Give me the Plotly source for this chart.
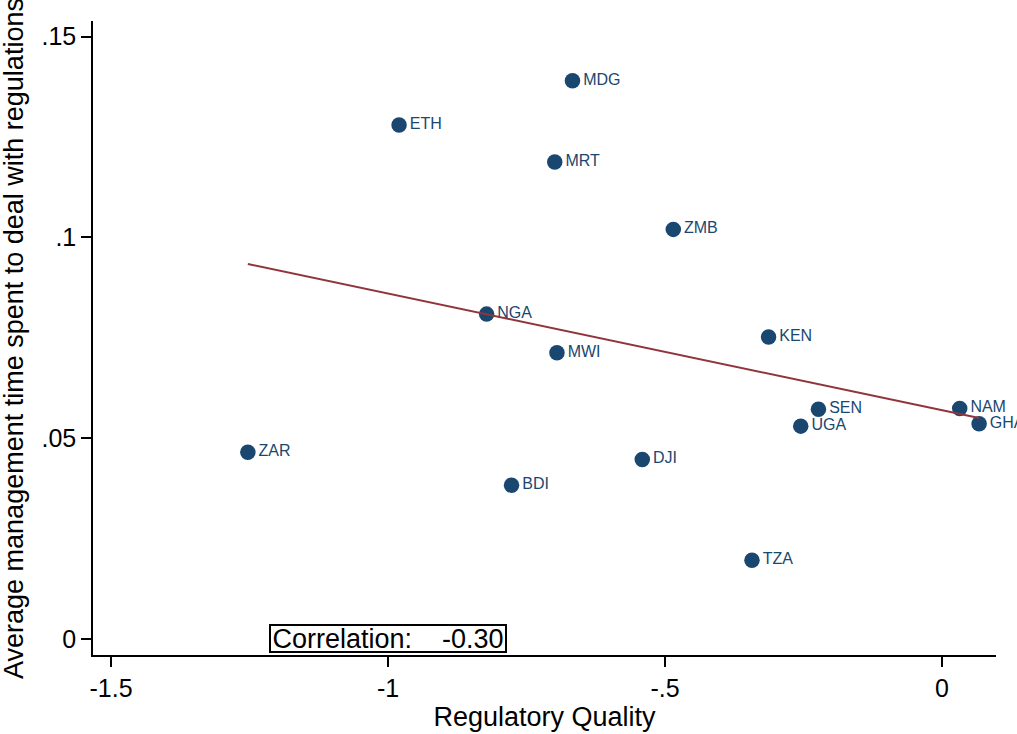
import numpy as np
import plotly.graph_objects as go

# Country codes, regulatory quality index, and share of management time spent on regulations
countries = ["MDG", "ETH", "MRT", "ZMB", "NGA", "KEN", "MWI", "NAM",
             "SEN", "GHA", "UGA", "ZAR", "DJI", "BDI", "TZA"]
reg_quality = [-0.667, -0.980, -0.699, -0.485, -0.822, -0.313, -0.695, 0.032,
               -0.223, 0.067, -0.255, -1.253, -0.541, -0.777, -0.343]
mgmt_time = [0.1390, 0.1280, 0.1188, 0.1020, 0.0809, 0.0752, 0.0713, 0.0574,
             0.0572, 0.0536, 0.0530, 0.0465, 0.0447, 0.0383, 0.0196]

x_ticks = [-1.5, -1, -0.5, 0]
x_tick_text = ["-1.5", "-1", "-.5", "0"]
y_ticks = [0, 0.05, 0.1, 0.15]
y_tick_text = ["0", ".05", ".1", ".15"]

NAVY = "#1a476f"
MAROON = "#90353b"
FONT = "Liberation Sans, Arial, sans-serif"

x = np.array(reg_quality)
y = np.array(mgmt_time)

# Linear fit across the observed range and the Pearson correlation
slope, intercept = np.polyfit(x, y, 1)
fit_x = np.array([x.min(), x.max()])
fit_y = slope * fit_x + intercept
corr = np.corrcoef(x, y)[0, 1]

fig = go.Figure()

fig.add_trace(go.Scatter(
    x=reg_quality, y=mgmt_time, mode="markers+text",
    text=countries, textposition="middle right",
    textfont=dict(family=FONT, size=16, color=NAVY),
    marker=dict(size=15.5, color=NAVY, line=dict(width=0)),
    cliponaxis=False, showlegend=False, hoverinfo="skip",
))

fig.add_trace(go.Scatter(
    x=fit_x, y=fit_y, mode="lines",
    line=dict(color=MAROON, width=2),
    showlegend=False, hoverinfo="skip",
))

# Boxed correlation note sitting on the x axis
fig.add_annotation(
    x=-1.0, y=0.0, xref="x", yref="y",
    text="Correlation:\u00a0\u00a0\u00a0\u00a0" + f"{corr:.2f}",
    showarrow=False, xanchor="center", yanchor="middle",
    width=234, height=25, align="center", valign="middle",
    font=dict(family=FONT, size=27, color="black"),
    bgcolor="white", bordercolor="black", borderwidth=2, borderpad=0,
)

# Vertical axis title
fig.add_annotation(
    x=-0.0875, y=0.5, xref="paper", yref="paper",
    text="Average management time spent to deal with regulations",
    textangle=-90, showarrow=False, xanchor="center", yanchor="middle",
    font=dict(family=FONT, size=27, color="black"),
)

axis_common = dict(
    showline=True, linecolor="black", linewidth=1.5,
    ticks="outside", ticklen=10, tickwidth=1.5, tickcolor="black",
    showgrid=False, zeroline=False,
    tickfont=dict(family=FONT, size=25, color="black"),
)

fig.update_xaxes(
    range=[-1.5325, 0.0975], tickvals=x_ticks, ticktext=x_tick_text,
    title_text="Regulatory Quality", title_standoff=0,
    title_font=dict(family=FONT, size=27, color="black"),
    **axis_common,
)
fig.update_yaxes(
    range=[-0.0040, 0.1539], tickvals=y_ticks, ticktext=y_tick_text,
    **axis_common,
)

fig.update_layout(
    width=1017, height=734,
    margin=dict(l=93, r=21, t=21, b=79, autoexpand=False),
    paper_bgcolor="white", plot_bgcolor="white",
)

fig.write_html("out.html")
